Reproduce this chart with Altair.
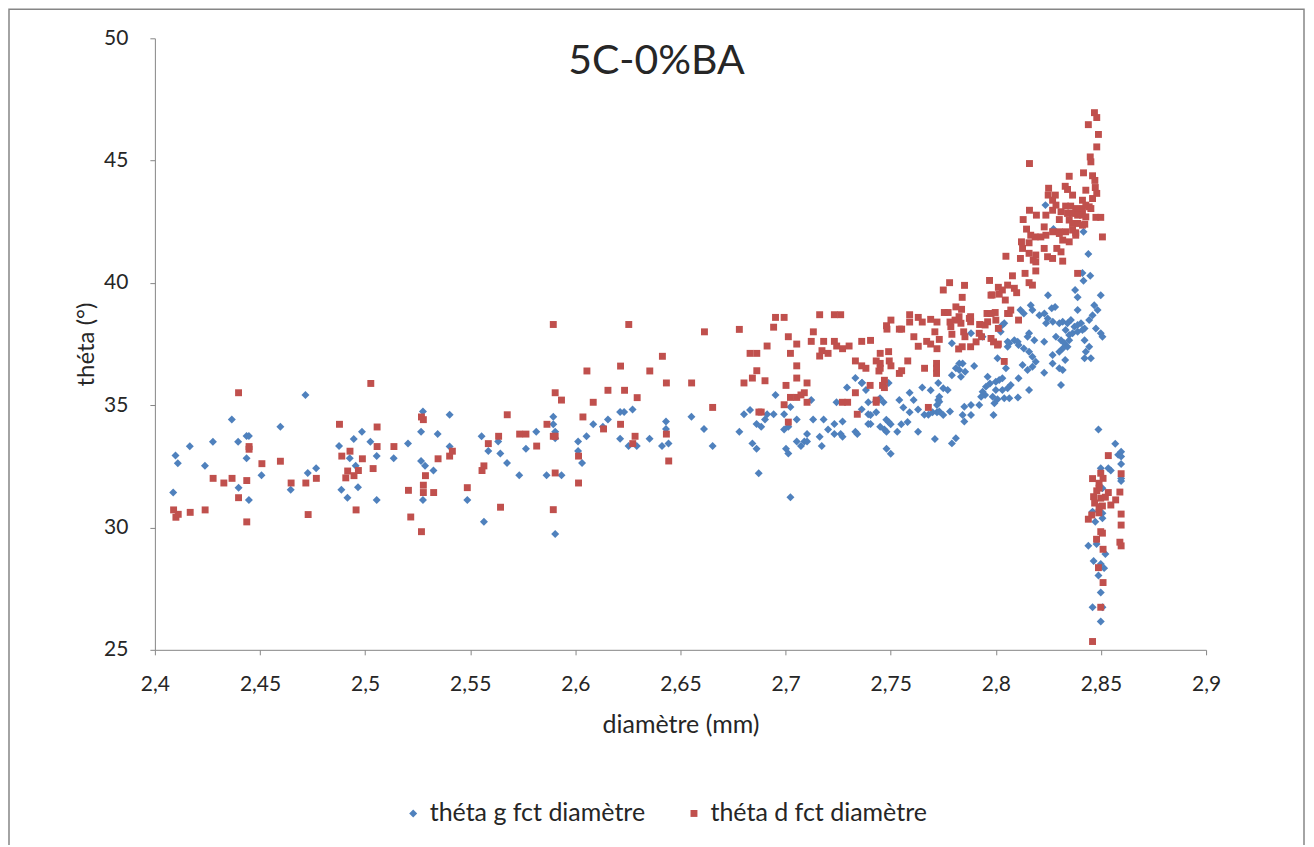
import altair as alt
import pandas as pd

TITLE = "5C-0%BA"
X_LABEL = "diamètre (mm)"
Y_LABEL = "théta (°)"
SERIES = ["théta g fct diamètre", "théta d fct diamètre"]
COLORS = ["#4F81BD", "#C0504D"]
SHAPES = ["diamond", "square"]
X_TICKS = [2.4, 2.45, 2.5, 2.55, 2.6, 2.65, 2.7, 2.75, 2.8, 2.85, 2.9]
Y_TICKS = [25, 30, 35, 40, 45, 50]
FONT = "Lato"

# (diamètre, théta g)
theta_g_points = [
    (2.4087, 31.43), (2.4098, 32.94), (2.4109, 32.63), (2.4166, 33.32), (2.4238, 32.53), (2.4276, 33.51),
    (2.4366, 34.42), (2.4396, 33.51), (2.4398, 31.63), (2.4436, 33.74), (2.4447, 33.74), (2.4436, 32.83),
    (2.4447, 31.13), (2.4507, 32.14), (2.4597, 34.12), (2.4646, 31.54), (2.4716, 35.42), (2.4727, 32.23),
    (2.4767, 32.42), (2.4876, 33.33), (2.4887, 31.54), (2.4916, 31.22), (2.4927, 32.83), (2.4946, 33.62),
    (2.4955, 32.53), (2.4966, 31.65), (2.4985, 33.92), (2.5025, 33.51), (2.5055, 32.92), (2.5055, 31.13),
    (2.5136, 32.83), (2.5204, 33.43), (2.5266, 33.92), (2.5275, 34.74), (2.5266, 32.72), (2.5285, 32.53),
    (2.5325, 32.33), (2.5275, 31.13), (2.5345, 33.82), (2.5402, 33.31), (2.5402, 34.61),
    (2.5554, 33.73), (2.5586, 33.13), (2.5633, 33.52), (2.5643, 33.03), (2.5675, 32.64), (2.5486, 31.13),
    (2.5565, 30.24), (2.5733, 32.14), (2.5765, 33.22), (2.5814, 33.92), (2.5863, 32.14), (2.5895, 34.53),
    (2.5895, 34.22), (2.5904, 33.92), (2.5904, 33.65), (2.5934, 32.14), (2.5904, 29.74), (2.6013, 33.52),
    (2.6013, 33.13), (2.6032, 32.64), (2.6053, 33.73), (2.6085, 34.22), (2.6131, 34.12), (2.6155, 34.42),
    (2.6213, 34.72), (2.6232, 34.72), (2.6272, 34.82), (2.6213, 33.63), (2.6253, 33.33), (2.6292, 33.33),
    (2.6353, 33.63), (2.6412, 33.33), (2.6431, 34.33), (2.6431, 34.03), (2.6443, 33.43), (2.6552, 34.53),
    (2.6612, 34.03), (2.6653, 33.33), (2.6780, 33.92),
    (2.6802, 34.63), (2.6831, 34.80), (2.6842, 33.44), (2.6862, 33.22), (2.6872, 32.22), (2.6862, 34.23),
    (2.6884, 34.12), (2.6902, 34.42), (2.6912, 34.63), (2.6943, 34.63), (2.6952, 35.42), (2.6993, 34.63),
    (2.6993, 34.01), (2.7013, 34.12), (2.7002, 33.22), (2.7013, 33.03), (2.7023, 31.24), (2.7023, 34.93),
    (2.7053, 34.42), (2.7053, 33.52), (2.7073, 33.33), (2.7089, 33.52), (2.7102, 33.52), (2.7102, 33.82),
    (2.7122, 35.21), (2.7131, 34.42), (2.7162, 33.71), (2.7172, 33.33), (2.7181, 34.42), (2.7202, 34.01),
    (2.7232, 34.23), (2.7232, 33.82), (2.7262, 33.82), (2.7271, 33.71), (2.7242, 35.12), (2.7271, 34.33),
    (2.7292, 35.72), (2.7332, 33.92), (2.7341, 33.82), (2.7332, 36.11), (2.7362, 35.91), (2.7362, 34.83),
    (2.7382, 35.62), (2.7393, 35.12), (2.7393, 34.63), (2.7393, 34.23),
    (2.7431, 34.71), (2.7466, 35.12), (2.7490, 35.91), (2.7479, 34.41), (2.7490, 34.31), (2.7500, 34.22),
    (2.7450, 34.12), (2.7470, 34.01), (2.7480, 33.92), (2.7480, 33.22), (2.7500, 33.02), (2.7541, 35.21),
    (2.7560, 34.91), (2.7590, 35.51), (2.7609, 35.21), (2.7590, 34.71), (2.7630, 34.82), (2.7650, 35.72),
    (2.7690, 35.61), (2.7726, 35.91), (2.7550, 34.22), (2.7531, 33.92), (2.7580, 34.31), (2.7630, 33.92),
    (2.7660, 34.61), (2.7679, 34.61), (2.7699, 34.71), (2.7710, 33.62), (2.7726, 35.21), (2.7720, 34.71),
    (2.7364, 35.92), (2.7404, 34.60), (2.7404, 34.23), (2.7429, 35.14), (2.7449, 35.28),
    (2.7731, 34.74), (2.7750, 34.60), (2.7731, 35.14), (2.7720, 35.01), (2.7750, 35.69), (2.7771, 35.62),
    (2.7731, 35.35), (2.7782, 34.74), (2.7791, 33.44), (2.7810, 33.65), (2.7791, 36.23), (2.7810, 36.51),
    (2.7826, 36.44), (2.7842, 36.71), (2.7854, 36.37), (2.7826, 36.71), (2.7834, 36.16), (2.7791, 37.53),
    (2.7897, 36.60), (2.7850, 34.94), (2.7882, 35.01), (2.7842, 34.60), (2.7882, 34.60), (2.7850, 34.33),
    (2.7921, 35.01), (2.7949, 35.42), (2.7961, 36.16), (2.7972, 35.89), (2.7985, 35.35), (2.8000, 35.96),
    (2.8016, 36.03), (2.8031, 35.62), (2.8040, 35.28), (2.7989, 34.60), (2.8008, 35.24), (2.8048, 36.51),
    (2.8008, 36.92), (2.8023, 38.00), (2.8040, 38.35), (2.8056, 37.39),
    (2.8236, 43.18), (2.8274, 42.20), (2.8417, 42.09), (2.8440, 41.18), (2.8412, 40.41), (2.8449, 40.29),
    (2.8417, 40.09), (2.8248, 39.50), (2.8377, 39.71), (2.8389, 39.41), (2.8499, 39.50),
    (2.8166, 39.09), (2.8174, 38.89), (2.8117, 38.89), (2.8133, 38.75), (2.8207, 38.68), (2.8231, 38.75),
    (2.8247, 38.55), (2.8239, 38.35), (2.8271, 38.41), (2.8302, 38.35), (2.8266, 38.96), (2.8282, 39.02),
    (2.8389, 38.89), (2.8468, 39.09), (2.8484, 38.89), (2.8460, 38.68), (2.8444, 38.48), (2.8318, 38.41),
    (2.8341, 38.35), (2.8357, 38.48), (2.8374, 38.21), (2.8389, 38.28), (2.8405, 38.35), (2.8422, 38.14),
    (2.8332, 38.07), (2.8349, 37.87), (2.8365, 37.94), (2.8389, 38.00), (2.8412, 38.07), (2.8476, 38.14),
    (2.8499, 37.94), (2.8507, 37.80), (2.8286, 37.80), (2.8310, 37.66), (2.8327, 37.53), (2.8349, 37.66),
    (2.8341, 37.39), (2.8318, 37.32), (2.8302, 37.19), (2.8230, 37.59), (2.8183, 37.66), (2.8158, 37.94),
    (2.8151, 37.80), (2.8422, 37.66), (2.8444, 37.39), (2.8428, 37.19), (2.8452, 36.92), (2.8422, 36.92),
    (2.8330, 36.85), (2.8270, 37.05), (2.8270, 36.71), (2.8302, 36.51), (2.8318, 36.44), (2.8230, 36.33),
    (2.8310, 35.83), (2.8108, 37.46), (2.8133, 37.32), (2.8158, 37.19), (2.8174, 36.98), (2.8190, 36.78),
    (2.8174, 36.57), (2.8064, 37.53), (2.8088, 37.66), (2.8104, 37.59), (2.8127, 36.64), (2.8151, 36.44),
    (2.8158, 35.62), (2.8108, 36.10), (2.8105, 35.32), (2.8071, 35.83), (2.8056, 35.69), (2.8031, 36.10),
    (2.8000, 35.62), (2.7993, 35.08), (2.8064, 35.28), (2.8056, 37.59), (2.8031, 38.28), (2.7882, 37.94),
    (2.7937, 37.80), (2.7937, 35.55), (2.7953, 35.76), (2.7930, 35.35), (2.8488, 34.01), (2.8568, 33.42),
    (2.8582, 32.97), (2.8499, 32.42), (2.8535, 32.42), (2.8547, 32.33), (2.8507, 31.61), (2.8460, 30.65),
    (2.8473, 30.24), (2.8507, 30.38), (2.8507, 30.58), (2.8440, 29.25), (2.8479, 29.33), (2.8521, 28.92),
    (2.8465, 28.63), (2.8499, 28.51), (2.8515, 28.34), (2.8488, 28.04), (2.8499, 27.34), (2.8460, 26.74),
    (2.8507, 26.74), (2.8499, 26.16),
    (2.8596, 33.10), (2.8596, 32.90), (2.8596, 32.60), (2.8596, 32.00), (2.8596, 31.90),
]

# (diamètre, théta d)
theta_d_points = [
    (2.4089, 30.72), (2.4100, 30.42), (2.4111, 30.54), (2.4168, 30.62), (2.4239, 30.72), (2.4277, 32.01),
    (2.4328, 31.82), (2.4367, 32.01), (2.4398, 35.51), (2.4398, 31.22), (2.4437, 31.92), (2.4448, 33.31),
    (2.4448, 33.20), (2.4437, 30.23), (2.4509, 32.61), (2.4597, 32.71), (2.4648, 31.82), (2.4718, 31.82),
    (2.4729, 30.53), (2.4768, 32.01), (2.4878, 34.22), (2.4889, 32.92), (2.4928, 33.12), (2.4917, 32.31),
    (2.4908, 32.03), (2.4947, 32.12), (2.4968, 32.33), (2.4957, 30.72), (2.4987, 32.81), (2.5027, 35.89),
    (2.5057, 34.11), (2.5057, 33.31), (2.5038, 32.41), (2.5137, 33.31), (2.5206, 31.52), (2.5217, 30.43),
    (2.5268, 34.52), (2.5277, 34.41), (2.5287, 32.12), (2.5277, 31.73), (2.5277, 31.43), (2.5326, 31.43),
    (2.5268, 29.83), (2.5347, 32.81), (2.5402, 32.92),
    (2.5415, 33.12), (2.5486, 31.63), (2.5556, 32.33), (2.5565, 32.52), (2.5586, 33.43), (2.5635, 33.73),
    (2.5644, 30.83), (2.5676, 34.61), (2.5735, 33.82), (2.5765, 33.82), (2.5816, 33.33), (2.5865, 34.22),
    (2.5895, 38.30), (2.5904, 35.51), (2.5934, 35.21), (2.5895, 33.73), (2.5904, 33.73), (2.5904, 32.23),
    (2.5895, 30.73), (2.6015, 32.92), (2.6015, 31.82), (2.6036, 34.52), (2.6055, 36.40), (2.6085, 35.12),
    (2.6134, 34.03), (2.6155, 35.61), (2.6215, 36.60), (2.6215, 34.22), (2.6234, 35.61), (2.6254, 38.30),
    (2.6284, 33.73), (2.6273, 33.43), (2.6294, 35.31), (2.6354, 36.40), (2.6414, 37.00), (2.6433, 35.91),
    (2.6433, 33.82), (2.6444, 32.72), (2.6553, 35.91), (2.6614, 38.00), (2.6653, 34.91), (2.6780, 38.10),
    (2.6802, 35.91), (2.6831, 37.12), (2.6863, 37.12), (2.6842, 36.11), (2.6863, 36.41), (2.6873, 34.72),
    (2.6884, 34.72), (2.6902, 36.00), (2.6912, 37.42), (2.6943, 38.19), (2.6952, 38.59), (2.6993, 38.59),
    (2.7002, 35.81), (2.6993, 35.02), (2.7013, 37.80), (2.7023, 37.12), (2.7013, 34.31), (2.7023, 35.32),
    (2.7053, 37.50), (2.7053, 36.61), (2.7053, 36.11), (2.7053, 35.32), (2.7073, 35.42), (2.7089, 35.51),
    (2.7102, 35.91), (2.7102, 35.12), (2.7122, 37.61), (2.7132, 38.00), (2.7162, 38.70), (2.7173, 37.23),
    (2.7162, 37.01), (2.7181, 37.61), (2.7202, 37.12), (2.7232, 38.70), (2.7262, 38.70), (2.7232, 37.61),
    (2.7243, 37.42), (2.7271, 37.31), (2.7302, 37.42), (2.7270, 35.12), (2.7295, 35.12), (2.7332, 36.81),
    (2.7332, 35.51), (2.7341, 34.63), (2.7362, 37.61), (2.7362, 36.61), (2.7382, 36.51),
    (2.7482, 38.11), (2.7501, 38.48), (2.7541, 38.11), (2.7552, 38.11), (2.7590, 38.70), (2.7590, 38.40),
    (2.7631, 38.59), (2.7650, 38.40), (2.7690, 38.51), (2.7710, 38.00), (2.7720, 38.40), (2.7610, 37.80),
    (2.7631, 37.41), (2.7671, 37.61), (2.7690, 37.50), (2.7720, 37.31), (2.7581, 36.81), (2.7552, 36.41),
    (2.7541, 36.30), (2.7661, 36.51), (2.7718, 36.71), (2.7718, 36.51), (2.7718, 36.30), (2.7493, 36.81),
    (2.7501, 36.61), (2.7431, 36.81), (2.7450, 37.12), (2.7450, 36.71), (2.7450, 36.51), (2.7470, 36.02),
    (2.7461, 35.81), (2.7470, 35.72), (2.7431, 35.21), (2.7431, 35.12), (2.7402, 35.81), (2.7679, 34.91),
    (2.7490, 37.19), (2.7480, 38.25), (2.7731, 37.69), (2.7404, 37.65), (2.7444, 36.40),
    (2.8048, 41.09), (2.7970, 40.10), (2.8012, 39.82), (2.8031, 39.71), (2.8016, 39.54), (2.8045, 39.30),
    (2.7983, 39.51), (2.8056, 39.91), (2.7780, 40.01), (2.7750, 39.71), (2.7851, 39.90), (2.7840, 39.41),
    (2.7810, 39.02), (2.7837, 38.92), (2.7825, 38.62), (2.7806, 38.48), (2.7782, 38.40), (2.7834, 38.35),
    (2.7755, 38.79), (2.7773, 38.79), (2.7786, 38.21), (2.7791, 37.90), (2.7847, 38.00), (2.7853, 37.80),
    (2.7840, 37.39), (2.7823, 37.30), (2.7880, 37.39), (2.7880, 38.62), (2.7880, 38.41), (2.7923, 38.30),
    (2.7949, 38.28), (2.7958, 38.75), (2.7997, 38.79), (2.8000, 38.48), (2.8012, 38.14), (2.7932, 37.80),
    (2.7906, 37.59), (2.7989, 37.59), (2.8012, 37.50), (2.8040, 36.79), (2.8056, 38.75),
    (2.8469, 46.96), (2.8480, 46.76), (2.8440, 46.47), (2.8488, 46.07), (2.8480, 45.56), (2.8449, 45.15),
    (2.8452, 44.95), (2.8160, 44.88), (2.8417, 44.50), (2.8460, 44.38), (2.8349, 44.36), (2.8471, 44.19),
    (2.8473, 43.90), (2.8480, 43.66), (2.8428, 43.79), (2.8330, 43.95), (2.8341, 43.82), (2.8251, 43.87),
    (2.8249, 43.59), (2.8283, 43.59), (2.8365, 43.59), (2.8460, 43.45), (2.8412, 43.38), (2.8270, 43.38),
    (2.8286, 43.18), (2.8332, 43.14), (2.8356, 43.14), (2.8380, 43.04), (2.8412, 43.04), (2.8428, 43.18),
    (2.8444, 43.11), (2.8160, 42.97), (2.8193, 42.77), (2.8238, 42.77), (2.8270, 42.97), (2.8310, 42.91),
    (2.8341, 42.84), (2.8365, 42.84), (2.8389, 42.77), (2.8412, 42.77), (2.8428, 42.70), (2.8452, 43.04),
    (2.8476, 42.68), (2.8499, 42.68), (2.8130, 42.59), (2.8302, 42.59), (2.8349, 42.57), (2.8365, 42.43),
    (2.8389, 42.43), (2.8412, 42.36), (2.8230, 42.29), (2.8146, 42.20), (2.8270, 42.09), (2.8302, 42.09),
    (2.8332, 42.09), (2.8365, 42.16), (2.8380, 42.05), (2.8423, 42.40), (2.8507, 41.88), (2.8238, 41.95),
    (2.8214, 41.88), (2.8166, 41.95), (2.8187, 41.88), (2.8122, 41.68), (2.8158, 41.64), (2.8302, 42.02),
    (2.8318, 41.75), (2.8349, 41.68), (2.8380, 41.95), (2.8127, 41.41), (2.8158, 41.21), (2.8190, 41.14),
    (2.8230, 41.41), (2.8290, 41.41), (2.8310, 41.27), (2.8178, 40.93), (2.8190, 40.86), (2.8246, 41.07),
    (2.8270, 41.00), (2.8117, 41.00), (2.8318, 40.89), (2.8389, 40.39), (2.8190, 40.49), (2.8139, 40.39),
    (2.8079, 40.29), (2.8088, 39.78), (2.8099, 39.60), (2.8158, 40.01), (2.8174, 39.91),
    (2.7977, 39.50), (2.7874, 38.55), (2.7977, 38.75), (2.7961, 38.41), (2.7921, 37.94), (2.8008, 37.46),
    (2.7977, 37.73), (2.8064, 38.75), (2.8071, 38.89), (2.8108, 38.48),
    (2.8535, 32.94), (2.8499, 32.22), (2.8491, 31.81), (2.8510, 32.01), (2.8491, 31.61), (2.8535, 31.43),
    (2.8465, 31.26), (2.8499, 31.20), (2.8521, 31.24), (2.8491, 30.85), (2.8507, 30.88), (2.8547, 30.92),
    (2.8570, 31.13), (2.8456, 30.51), (2.8440, 30.34), (2.8499, 29.83), (2.8507, 29.77), (2.8479, 29.52),
    (2.8510, 29.11), (2.8488, 28.36), (2.8510, 27.75), (2.8499, 26.74), (2.8460, 25.34),
    (2.8480, 31.50), (2.8470, 31.00), (2.8490, 30.60), (2.8460, 32.00),
    (2.8596, 32.20), (2.8590, 31.45), (2.8596, 30.55), (2.8596, 30.10), (2.8590, 29.40), (2.8596, 29.25),
]

rows = []
for i, (d, t) in enumerate(theta_g_points):
    rows.append({"diam": d, "theta": t, "serie": SERIES[0], "ordre": i})
n0 = len(rows)
for i, (d, t) in enumerate(theta_d_points):
    rows.append({"diam": d, "theta": t, "serie": SERIES[1], "ordre": n0 + i})
df = pd.DataFrame(rows)

TEXT = "#262626"
AXIS = "#868686"

legend = alt.Legend(
    title=None, orient="none", legendX=246, legendY=763, direction="horizontal",
    columns=2, columnPadding=36, labelOffset=4, labelFont=FONT, labelFontSize=25,
    labelColor=TEXT, symbolSize=34, padding=0, labelLimit=0,
)

points = alt.Chart(df).mark_point(filled=True, opacity=1, strokeWidth=0).encode(
    x=alt.X(
        "diam:Q",
        scale=alt.Scale(domain=[2.4, 2.9], nice=False, zero=False),
        axis=alt.Axis(
            values=X_TICKS, title=X_LABEL,
            labelExpr="replace(format(datum.value, '.2~f'), '.', ',')",
            grid=False, domainColor=AXIS, tickColor=AXIS, tickSize=5, labelPadding=19,
            labelFont=FONT, labelFontSize=21, labelColor=TEXT, labelFlush=False,
            titleFont=FONT, titleFontSize=25, titleFontWeight="normal", titleColor=TEXT,
            titleX=526, titleY=75, titleBaseline="middle", titleAlign="center",
        ),
    ),
    y=alt.Y(
        "theta:Q",
        scale=alt.Scale(domain=[25, 50], nice=False, zero=False),
        axis=alt.Axis(
            values=Y_TICKS, title=Y_LABEL, grid=False, domainColor=AXIS, tickColor=AXIS,
            tickSize=5, labelPadding=22, labelFont=FONT, labelFontSize=21, labelColor=TEXT,
            titleFont=FONT, titleFontSize=24, titleFontWeight="normal", titleColor=TEXT,
            titleAngle=270, titleX=-68, titleY=306, titleBaseline="middle", titleAlign="center",
        ),
    ),
    color=alt.Color("serie:N", scale=alt.Scale(domain=SERIES, range=COLORS), legend=legend),
    shape=alt.Shape("serie:N", scale=alt.Scale(domain=SERIES, range=SHAPES), legend=legend),
    size=alt.Size("serie:N", scale=alt.Scale(domain=SERIES, range=[64, 48]), legend=None),
    order=alt.Order("ordre:Q"),
)

title = alt.Chart(pd.DataFrame({"t": [TITLE]})).mark_text(
    font=FONT, fontSize=41, color=TEXT, align="center", baseline="middle"
).encode(text="t:N", x=alt.value(502), y=alt.value(24))

border = alt.Chart(pd.DataFrame({"b": [1]})).mark_rect(
    fill="transparent", stroke=AXIS, strokeWidth=1.5
).encode(x=alt.value(-146), x2=alt.value(1150), y=alt.value(-29), y2=alt.value(830))

chart = alt.layer(border, points, title).properties(
    width=1052, height=612,
    autosize=alt.AutoSizeParams(type="none"),
    padding={"left": 147, "top": 30, "right": 100, "bottom": 195},
    background="white",
).configure_view(stroke="transparent")

chart.save("out.html", embed_options={"renderer": "svg", "actions": False})
